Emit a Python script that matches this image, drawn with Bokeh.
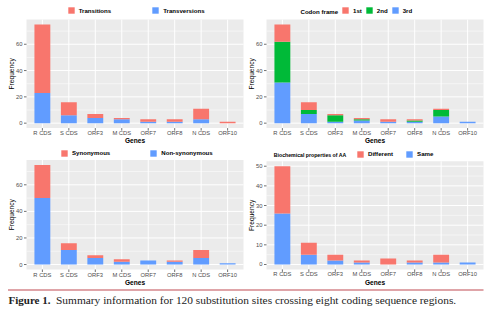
import math
from bokeh.plotting import figure
from bokeh.models import Legend, LegendItem, Range1d, ColumnDataSource
from bokeh.core.properties import value
from bokeh.embed import file_html
from bokeh.resources import INLINE

genes = ["R CDS", "S CDS", "ORF3", "M CDS", "ORF7", "ORF8", "N CDS", "ORF10"]

# Panel 1: substitution type
transitions = [52, 10, 3, 1, 2, 2, 8, 1]
transversions = [23, 6, 4, 3, 1, 1, 3, 0]

# Panel 2: codon frame
frame_1st = [13, 6, 1, 1, 2, 1, 1, 0]
frame_2nd = [31, 3, 5, 1, 0, 1, 5, 0]
frame_3rd = [31, 7, 1, 2, 1, 1, 5, 1]

# Panel 3: synonymous / non-synonymous
synonymous = [25, 5, 2, 2, 0, 1, 6, 0]
non_synonymous = [50, 11, 5, 2, 3, 2, 5, 1]

# Panel 4: biochemical properties of AA
different = [24, 6, 3, 1, 3, 1, 4, 0]
same = [26, 5, 2, 1, 0, 1, 1, 1]

RED = "#F8766D"
GREEN = "#00BA38"
BLUE = "#619CFF"
FONT = "Liberation Sans"
W, H = 500, 321

# One canvas for the whole figure; each panel gets its own scales (extra ranges)
p = figure(width=W, height=H, x_range=Range1d(0, W), y_range=Range1d(H, 0),
           x_axis_type=None, y_axis_type=None, min_border=0,
           toolbar_location=None, output_backend="svg")
p.outline_line_color = None
p.background_fill_color = "white"
p.border_fill_color = "white"


def panel(name, series, colors, labels, legend_order, title, title_size, ymax, step,
          box, legend_pos, spacing, title_pos, freq_x):
    L, R, T, B = box
    n = len(genes)
    x0, x1 = 0.4, n + 0.6
    y0, y1 = -0.05 * ymax, 1.05 * ymax
    sx = (x1 - x0) / (R - L)
    sy = (y1 - y0) / (B - T)
    xr, yr = name + "_x", name + "_y"
    p.extra_x_ranges[xr] = Range1d(x0 - L * sx, x0 + (W - L) * sx)
    p.extra_y_ranges[yr] = Range1d(y0 - (H - B) * sy, y1 + T * sy)
    kw = dict(x_range_name=xr, y_range_name=yr)

    # panel background
    p.quad(left=[x0], right=[x1], bottom=[y0], top=[y1], fill_color="#EBEBEB",
           line_color=None, **kw)
    # grid
    majors = []
    v = 0
    while v <= y1:
        majors.append(v)
        v += step
    minors = [m + step / 2 for m in majors if m + step / 2 <= y1]
    pos = [i + 1 for i in range(n)]
    p.segment(x0=[x0] * len(minors), x1=[x1] * len(minors), y0=minors, y1=minors,
              line_color="white", line_width=0.5, **kw)
    p.segment(x0=[x0] * len(majors), x1=[x1] * len(majors), y0=majors, y1=majors,
              line_color="white", line_width=1, **kw)
    p.segment(x0=pos, x1=pos, y0=[y0] * n, y1=[y1] * n,
              line_color="white", line_width=1, **kw)

    # stacked bars
    data = {"x": pos}
    keys = []
    for i, s in enumerate(series):
        k = "s%d" % i
        data[k] = s
        keys.append(k)
    src = ColumnDataSource(data)
    rends = p.vbar_stack(keys, x="x", width=0.6, color=colors, line_color=None,
                         source=src, **kw)

    # axis ticks
    p.segment(x0=[x0 - 2.5 * sx] * len(majors), x1=[x0] * len(majors), y0=majors, y1=majors,
              line_color="#333333", line_width=0.7, **kw)
    p.segment(x0=pos, x1=pos, y0=[y0] * n, y1=[y0 - 2.5 * sy] * n,
              line_color="#333333", line_width=0.7, **kw)
    p.text(x=[x0 - 4 * sx] * len(majors), y=majors, text=[str(m) for m in majors],
           text_font=value(FONT), text_font_size="5.8px", text_color="#4D4D4D",
           text_align="right", text_baseline="middle", **kw)
    p.text(x=pos, y=[y0 - 5 * sy] * n, text=genes,
           text_font=value(FONT), text_font_size="5.8px", text_color="#4D4D4D",
           text_align="center", text_baseline="middle", **kw)
    # axis titles
    p.text(x=[(x0 + x1) / 2], y=[y0 - 12.7 * sy], text=["Genes"],
           text_font=value(FONT), text_font_size="6.6px", text_font_style="bold",
           text_color="black", text_align="center", text_baseline="middle", **kw)
    p.text(x=[x0 - (L - freq_x) * sx], y=[(y0 + y1) / 2], text=["Frequency"],
           angle=math.pi / 2, text_font=value(FONT), text_font_size="6.6px",
           text_color="black", text_align="center", text_baseline="middle", **kw)

    # legend
    if title:
        p.text(x=[title_pos[0]], y=[title_pos[1]], text=[title],
               text_font=value(FONT), text_font_size=title_size, text_font_style="bold",
               text_color="black", text_align="left", text_baseline="middle")
    items = [LegendItem(label=labels[i], renderers=[rends[i]]) for i in legend_order]
    leg = Legend(items=items, orientation="horizontal",
                 location=(legend_pos[0], H - legend_pos[1]),
                 glyph_width=8, glyph_height=8, label_height=8, label_width=5,
                 label_text_font=FONT, label_text_font_size="6.1px",
                 label_text_font_style="bold", label_text_color="black",
                 label_standoff=4, spacing=spacing, padding=0, margin=0,
                 background_fill_alpha=0, border_line_alpha=0)
    p.add_layout(leg)


panel("p1", [transversions, transitions], [BLUE, RED], ["Transversions", "Transitions"],
      [1, 0], None, None, 75, 20, (26, 243, 19.1, 127.6), (66.7, 14.3), 40, None, 10.5)
panel("p2", [frame_3rd, frame_2nd, frame_1st], [BLUE, GREEN, RED], ["3rd", "2nd", "1st"],
      [2, 1, 0], "Codon frame", "6.1px", 75, 20, (266, 483, 19.1, 127.6), (341, 14.3), 3,
      (300, 10.5), 250.5)
panel("p3", [non_synonymous, synonymous], [BLUE, RED], ["Non-synonymous", "Synonymous"],
      [1, 0], None, None, 75, 20, (26, 243, 159.4, 269), (60, 156.7), 39, None, 10.5)
panel("p4", [same, different], [BLUE, RED], ["Same", "Different"],
      [1, 0], "Biochemical properties of AA", "5.2px", 50, 10, (266, 483, 160.8, 268.9),
      (356, 157.8), 12, (273.3, 154.3), 250.5)

# caption with rule
p.segment(x0=[7.5], x1=[483], y0=[289.5], y1=[289.5], line_color="#D4868B", line_width=1.6)
p.text(x=[8], y=[299.5], text=["Figure 1."], text_font=value("Liberation Serif"),
       text_font_size="11px", text_font_style="bold", text_color="#222222",
       text_align="left", text_baseline="middle")
p.text(x=[55.5], y=[299.5],
       text=["Summary information for 120 substitution sites crossing eight coding sequence regions."],
       text_font=value("Liberation Serif"), text_font_size="11.4px", text_color="#222222",
       text_align="left", text_baseline="middle")

open("out.html", "w").write(file_html(p, INLINE))
